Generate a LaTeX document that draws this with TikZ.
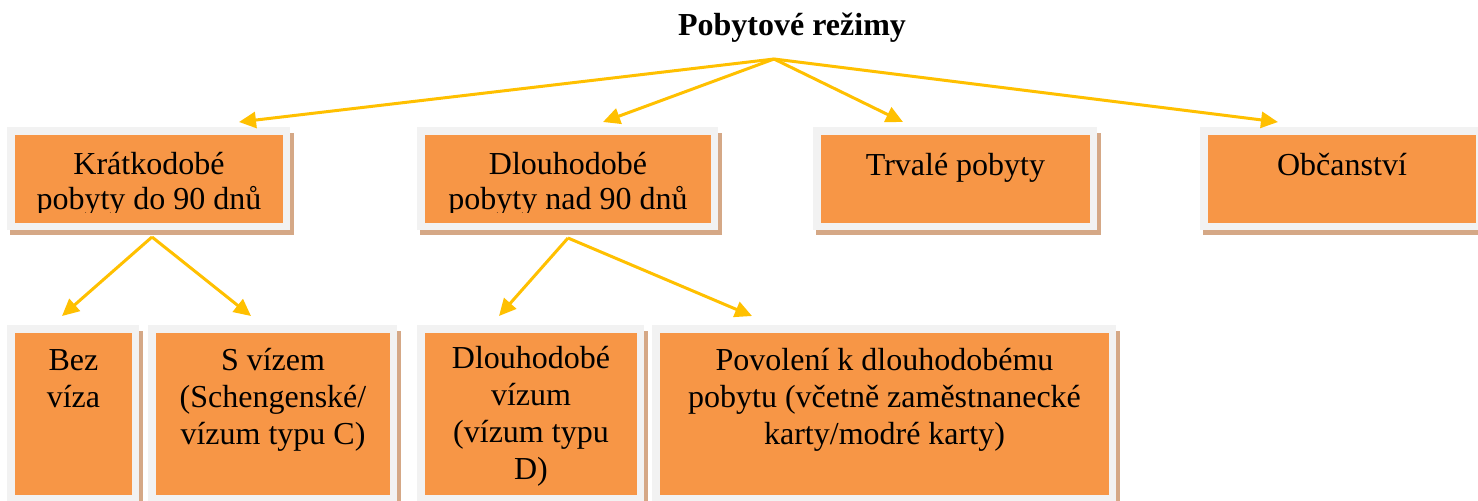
\documentclass[tikz,border=0pt]{standalone}
\usepackage{fontspec}
\setmainfont{Liberation Serif}
\usetikzlibrary{arrows.meta}
\definecolor{boxorange}{HTML}{F79646}
\definecolor{framegray}{HTML}{F2F2F2}
\definecolor{shadowtan}{HTML}{D5A886}
\definecolor{arrowgold}{HTML}{FFC000}
\tikzset{
  frame/.style={fill=framegray, inner sep=0pt, outer sep=0pt, anchor=north west},
  boxtext/.style={inner sep=0pt, anchor=base, align=center, font=\fontsize{16}{17.5}\selectfont},
  boxtextlow/.style={inner sep=0pt, anchor=base, align=center, font=\fontsize{16}{18.5}\selectfont},
  conn/.style={draw=arrowgold, line width=1.5pt, -{Triangle[length=8.5pt,width=8pt]}},
}
% name, x1, y1, x2, y2, last baseline, text style, text, text clip bottom
\newcommand\pbox[9]{%
  \fill[shadowtan] (#2+3,#3+6) rectangle (#4+4,#5+5);
  \node[frame, minimum width={(#4-#2)*0.5pt}, minimum height={(#5-#3)*0.5pt}] (#1) at (#2,#3) {};
  \fill[boxorange] (#2+8,#3+8) rectangle (#4-7,#5-7);
  \begin{scope}
    \clip (#2+8,#3+8) rectangle (#4-7,#9);
    \node[#7] (#1-text) at ({(#2+#4+1)/2},#6) {#8};
  \end{scope}}
\begin{document}
\begin{tikzpicture}[x=0.5pt, y=-0.5pt]
  \useasboundingbox (0,0) rectangle (1478,500);
  \fill[white] (0,0) rectangle (1478,500);

  \node[inner sep=0pt, anchor=base, font=\fontsize{16}{18}\selectfont\bfseries] (title) at (792,35) {Pobytové režimy};

  % top row
  \pbox{short}{7}{127}{290}{230}{209}{boxtext}{Krátkodobé\\pobyty do 90 dnů}{212}
  \pbox{long}{417}{127}{718}{230}{209}{boxtext}{Dlouhodobé\\pobyty nad 90 dnů}{212}
  \pbox{perm}{813}{127}{1097}{230}{175}{boxtext}{Trvalé pobyty}{212}
  \pbox{cit}{1200}{127}{1483}{230}{175}{boxtext}{Občanství}{212}

  % bottom row
  \pbox{nov}{7}{325}{139}{502}{407}{boxtextlow}{Bez\\víza}{495}
  \pbox{vis}{148}{325}{397}{502}{444}{boxtextlow}{S vízem\\(Schengenské/\\vízum typu C)}{495}
  \pbox{lvis}{417}{325}{644}{502}{479}{boxtextlow}{Dlouhodobé\\vízum\\(vízum typu\\D)}{495}
  \pbox{perm2}{652}{325}{1116}{502}{444}{boxtextlow}{Povolení k dlouhodobému\\pobytu (včetně zaměstnanecké\\karty/modré karty)}{495}

  % connector end points
  \coordinate (hub) at (774,59);
  \coordinate (t1) at (239,122);
  \coordinate (t2) at (603,122);
  \coordinate (t3) at (903,122);
  \coordinate (t4) at (1278,122);
  \coordinate (hubA) at (152,237);
  \coordinate (tA1) at (62,316);
  \coordinate (tA2) at (251,316);
  \coordinate (hubB) at (568,238);
  \coordinate (tB1) at (499,316);
  \coordinate (tB2) at (752,316);

  \draw[conn] (hub) -- (t1);
  \draw[conn] (hub) -- (t2);
  \draw[conn] (hub) -- (t3);
  \draw[conn] (hub) -- (t4);
  \draw[conn] (hubA) -- (tA1);
  \draw[conn] (hubA) -- (tA2);
  \draw[conn] (hubB) -- (tB1);
  \draw[conn] (hubB) -- (tB2);
\end{tikzpicture}
\end{document}
